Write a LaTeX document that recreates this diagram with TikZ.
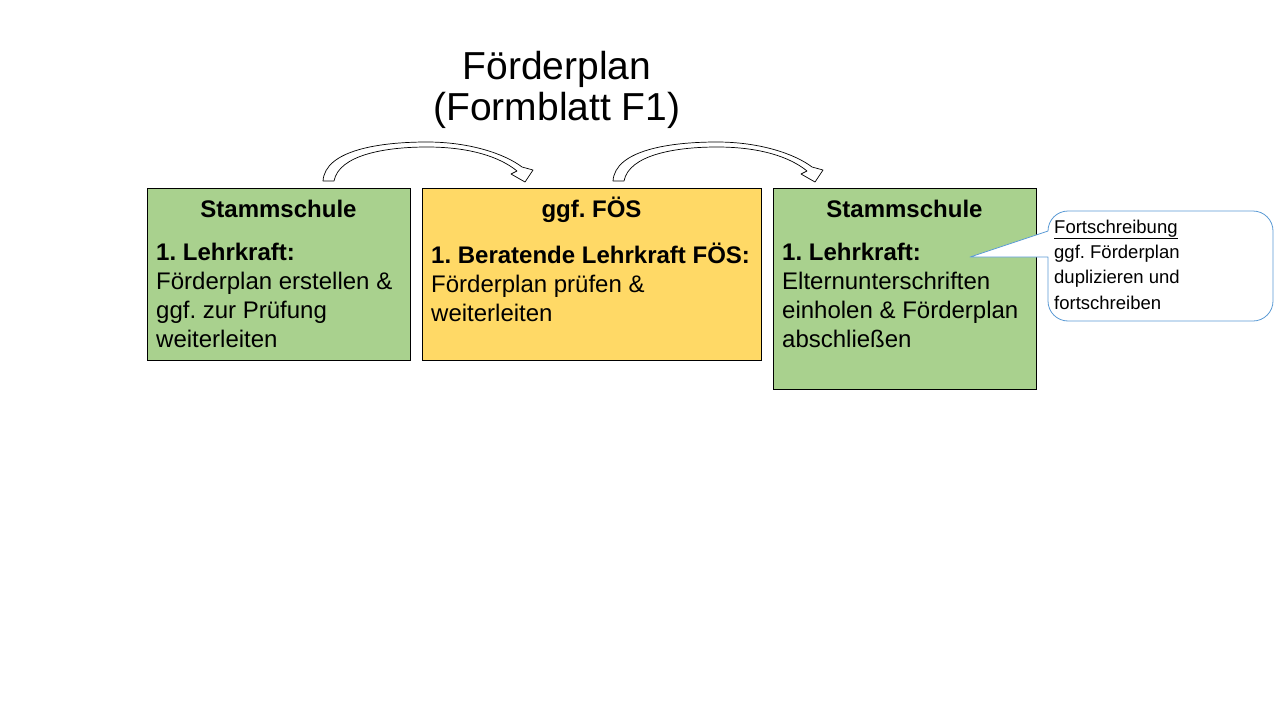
\documentclass[tikz,border=0pt]{standalone}
\usepackage{fontspec}
\setmainfont{Liberation Sans}
\frenchspacing
\definecolor{boxgreen}{HTML}{A9D18E}
\definecolor{boxyellow}{HTML}{FFD966}
\definecolor{callblue}{HTML}{5B9BD5}
\begin{document}
\begin{tikzpicture}[x=1pt,y=-1pt,
  box/.style={draw=black,line width=0.8pt,rectangle,inner sep=0pt,anchor=north west},
  head/.style={font=\bfseries\fontsize{24}{29}\selectfont,anchor=base,inner sep=0pt},
  body/.style={font=\fontsize{24}{29}\selectfont,anchor=north west,inner sep=0pt,align=left},
  blockarrow/.style={fill=white,draw=black,line width=0.7pt,line join=round},
  callout/.style={draw=callblue,line width=0.8pt,fill=white,line join=round},
  calltext/.style={font=\fontsize{18.5}{25.3}\selectfont,anchor=north west,inner sep=0pt,align=left}]
\useasboundingbox (0,0) rectangle (1280,720);
\fill[white] (0,0) rectangle (1280,720);

% title
\node[font=\fontsize{39}{41}\selectfont,align=center,inner sep=0pt] (title) at (557,89.5)
  {Förderplan\\(Formblatt F1)};

% boxes
\node[box,fill=boxgreen,minimum width=263pt,minimum height=172pt] (b1) at (147,188) {};
\node[box,fill=boxyellow,minimum width=339pt,minimum height=172pt] (b2) at (422,188) {};
\node[box,fill=boxgreen,minimum width=263pt,minimum height=201pt] (b3) at (773,188) {};

% texts
\node[head] (h1) at (278.5,217) {Stammschule};
\node[body] (t1) at (156,243) {\textbf{1. Lehrkraft:}\\Förderplan erstellen \&\\ggf. zur Prüfung\\weiterleiten};
\node[head] (h2) at (591.5,217) {ggf. FÖS};
\node[body] (t2) at (431,243) {\textbf{1. Beratende Lehrkraft FÖS:}\\Förderplan prüfen \&\\weiterleiten};
\node[head] (h3) at (904.5,217) {Stammschule};
\node[body] (t3) at (782,243) {\textbf{1. Lehrkraft:}\\Elternunterschriften\\einholen \& Förderplan\\abschließen};

% curved block arrows
\foreach \dx in {0,290}{
\begin{scope}[xshift=\dx pt]
\draw[blockarrow] (323,181) .. controls (325,150) and (380,142) .. (427,142)
  .. controls (470,142) and (505,154) .. (522,167) -- (533,170) -- (525,182) -- (511,174) -- (517,171)
  .. controls (500,157) and (470,147) .. (427,147)
  .. controls (385,147) and (339,155) .. (334,181) -- cycle;
\end{scope}}

% callout
\draw[callout] (970,257) -- (1048,257) -- (1048,301)
  arc[start angle=180,end angle=90,radius=20] -- (1253,321)
  arc[start angle=90,end angle=0,radius=20] -- (1273,231)
  arc[start angle=0,end angle=-90,radius=20] -- (1068,211)
  arc[start angle=-90,end angle=-180,radius=20] -- (1048,231) -- cycle;
\node[calltext] (c1) at (1054,219.5) {\underline{Fortschreibung}\\ggf. Förderplan\\duplizieren und\\fortschreiben};
\end{tikzpicture}
\end{document}
